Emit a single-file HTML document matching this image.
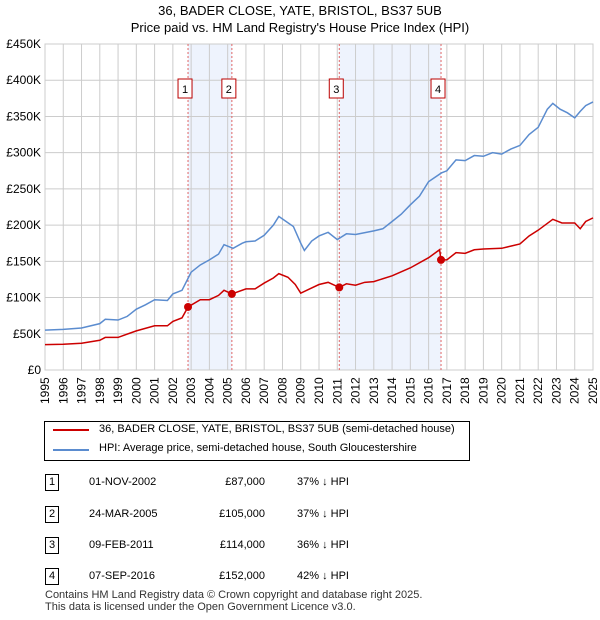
<!DOCTYPE html>
<html><head><meta charset="utf-8"><style>
body{margin:0;width:600px;height:620px;background:#fff;font-family:"Liberation Sans","DejaVu Sans",sans-serif;position:relative;overflow:hidden}
.t{position:absolute;font-size:11px;color:#000}
</style></head><body>
<svg id="c" width="600" height="420" style="position:absolute;left:0;top:0" font-family="Liberation Sans, DejaVu Sans, sans-serif" font-size="12"></svg>
<div style="position:absolute;top:2px;width:600px;text-align:center;font-size:13px;line-height:17px">36, BADER CLOSE, YATE, BRISTOL, BS37 5UB<br>Price paid vs. HM Land Registry's House Price Index (HPI)</div>
<div style="position:absolute;left:44px;top:421px;width:426px;height:40px;border:1px solid #000;box-sizing:border-box;font-size:11px">
<div style="position:absolute;left:8px;top:7px;width:36px;height:2px;background:#cc0000"></div>
<div style="position:absolute;left:54px;top:1px">36, BADER CLOSE, YATE, BRISTOL, BS37 5UB (semi-detached house)</div>
<div style="position:absolute;left:8px;top:27px;width:36px;height:2px;background:#5b8ccf"></div>
<div style="position:absolute;left:54px;top:20px">HPI: Average price, semi-detached house, South Gloucestershire</div>
</div>
<div id="tbl"></div>
<div class="t" style="left:45px;top:589px;color:#333;line-height:12px">Contains HM Land Registry data © Crown copyright and database right 2025.<br>This data is licensed under the Open Government Licence v3.0.</div>
<script>
const hpiX=[1995,1996,1997,1998,1998.3,1999,1999.5,2000,2000.5,2001,2001.7,2002,2002.5,2003,2003.5,2004,2004.5,2004.8,2005.3,2005.8,2006,2006.5,2007,2007.5,2007.8,2008.2,2008.6,2009,2009.2,2009.6,2010,2010.5,2011,2011.5,2012,2013,2013.5,2014,2014.5,2015,2015.5,2016,2016.7,2017,2017.5,2018,2018.5,2019,2019.5,2020,2020.5,2021,2021.5,2022,2022.5,2022.8,2023.2,2023.6,2024,2024.3,2024.6,2025];
const hpiY=[55,56,58,64,70,69,74,84,90,97,96,105,110,135,145,152,160,173,168,175,177,178,186,200,212,205,198,175,165,178,185,190,180,188,187,192,195,205,215,228,240,260,272,275,290,289,296,295,300,298,305,310,325,335,360,368,360,355,348,357,365,370];
const ppX=[1995,1996,1997,1998,1998.3,1999,2000,2001,2001.7,2002,2002.5,2002.83,2003.5,2004,2004.5,2004.8,2005.23,2006,2006.5,2007,2007.5,2007.8,2008.3,2008.7,2009,2009.5,2010,2010.5,2011.11,2011.5,2012,2012.5,2013,2014,2015,2016,2016.6,2016.68,2017,2017.5,2018,2018.5,2019,2020,2020.5,2021,2021.5,2022,2022.8,2023.3,2024,2024.3,2024.6,2025];
const ppY=[35,35.5,37,41,45,45,54,61,61,67,72,87,97,97,103,110,105,112,112,120,127,133,128,118,106,112,118,121,114,119,117,121,122,130,141,155,166,152,152,162,161,166,167,168,171,174,185,193,208,203,203,195,205,210];
const saleX=[2002.83,2005.23,2011.11,2016.68];
const saleY=[87,105,114,152];
const saleLabels=["1","2","3","4"];
const saleDates=["01-NOV-2002","24-MAR-2005","09-FEB-2011","07-SEP-2016"];
const salePrices=["£87,000","£105,000","£114,000","£152,000"];
const saleDiff=["37% ↓ HPI","37% ↓ HPI","36% ↓ HPI","42% ↓ HPI"];
const yTicks=[0,50,100,150,200,250,300,350,400,450];
const xTicks=[1995,1996,1997,1998,1999,2000,2001,2002,2003,2004,2005,2006,2007,2008,2009,2010,2011,2012,2013,2014,2015,2016,2017,2018,2019,2020,2021,2022,2023,2024,2025];
const L=45,R=593,T=44,B=370;
const x=v=>L+(v-1995)/30*(R-L);
const y=v=>B-v/450*(B-T);
const svg=document.getElementById('c');const NS='http://www.w3.org/2000/svg';
function mk(t,a,p){const e=document.createElementNS(NS,t);for(const k in a)e.setAttribute(k,a[k]);(p||svg).appendChild(e);return e;}
for(let i=0;i<4;i+=2){const r=mk('rect',{x:x(saleX[i]),y:T,width:x(saleX[i+1])-x(saleX[i]),height:B-T,fill:'#eef3fd'});

}
yTicks.forEach(v=>{mk('line',{x1:L,x2:R,y1:y(v),y2:y(v),stroke:'#ccc'});const t=mk('text',{x:L-4,y:y(v)+4,'text-anchor':'end',fill:'#000'});t.textContent=v==0?'£0':'£'+v+'K';

});
xTicks.forEach(v=>{mk('line',{x1:x(v),x2:x(v),y1:T,y2:B,stroke:'#ccc'});const t=mk('text',{transform:`translate(${x(v)+4},${B+34}) rotate(-90)`,fill:'#000'});t.textContent=v;

});
mk('rect',{x:L,y:T,width:R-L,height:B-T,fill:'none',stroke:'#ccc'});
saleX.forEach((v,i)=>{const l=mk('line',{x1:x(v),x2:x(v),y1:T,y2:B,stroke:'#e06666','stroke-dasharray':'2,2'});


const bx=x(v)-10;
const r=mk('rect',{x:bx,y:79,width:14,height:19,fill:'#fff',stroke:'#b00'});


const t=mk('text',{x:bx+7,y:93,'text-anchor':'middle','font-size':'11'});t.textContent=saleLabels[i];});
const hp=mk('polyline',{points:hpiX.map((v,i)=>x(v)+','+y(hpiY[i])).join(' '),fill:'none',stroke:'#5b8ccf','stroke-width':1.5});


const pp=mk('polyline',{points:ppX.map((v,i)=>x(v)+','+y(ppY[i])).join(' '),fill:'none',stroke:'#cc0000','stroke-width':1.5});


saleX.forEach((v,i)=>{const c=mk('circle',{cx:x(v),cy:y(saleY[i]),r:4,fill:'#cc0000'});

});
const tb=document.getElementById('tbl');
saleX.forEach((v,i)=>{const top=[483,515,546,577][i];
const row=document.createElement('div');


row.innerHTML=`<div style="position:absolute;left:45px;top:${top-9}px;width:14px;height:17px;border:1px solid #000;box-sizing:border-box;text-align:center;font-size:11px;line-height:15px">${saleLabels[i]}</div>
<div class="t" style="left:89px;top:${top-7}px">${saleDates[i]}</div>
<div class="t" style="left:200px;width:65px;text-align:right;top:${top-7}px">${salePrices[i]}</div>
<div class="t" style="left:297px;top:${top-7}px">${saleDiff[i]}</div>`;
tb.appendChild(row);});
</script>
</body></html>
